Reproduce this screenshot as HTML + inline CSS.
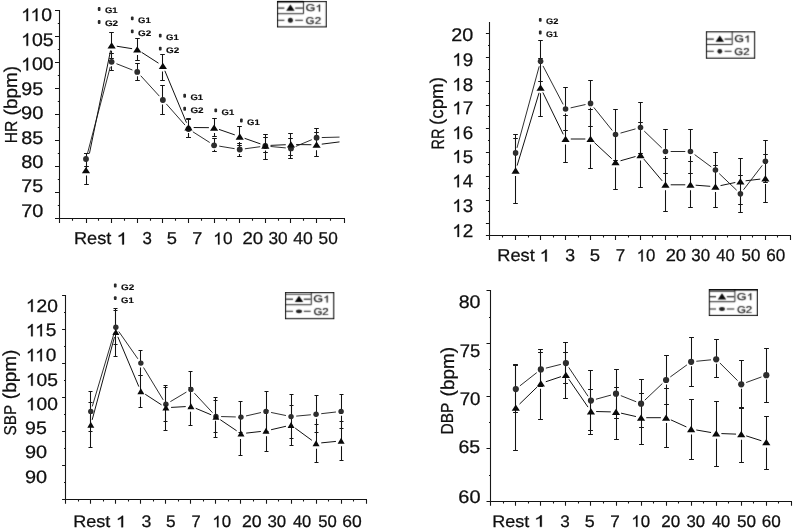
<!DOCTYPE html>
<html><head><meta charset="utf-8"><title>Figure</title>
<style>html,body{margin:0;padding:0;background:#fff}svg{display:block}text{font-family:"Liberation Sans",sans-serif;text-rendering:geometricPrecision}</style>
</head><body>
<svg width="793" height="532" viewBox="0 0 793 532" font-family="'Liberation Sans', sans-serif">
<defs><filter id="b" x="0" y="0" width="793" height="532" filterUnits="userSpaceOnUse" color-interpolation-filters="sRGB"><feConvolveMatrix order="3" kernelMatrix="1 3 1 3 16 3 1 3 1" divisor="32" edgeMode="duplicate" preserveAlpha="true"/></filter></defs>
<rect width="793" height="532" fill="#fff"/>
<g filter="url(#b)">
<path d="M59.50,10.00V222.90M55.00,218.50H345.00M55.00,10.50h4.5M55.00,36.50h4.5M55.00,62.50h4.5M55.00,88.50h4.5M55.00,114.50h4.5M55.00,140.50h4.5M55.00,166.50h4.5M55.00,192.50h4.5M55.00,218.50h4.5M57.80,23.50h1.7M57.80,49.50h1.7M57.80,75.50h1.7M57.80,101.50h1.7M57.80,127.50h1.7M57.80,153.50h1.7M57.80,179.50h1.7M57.80,205.50h1.7M59.50,218.50v4.4M86.50,218.50v4.4M111.50,218.50v4.4M137.50,218.50v4.4M162.50,218.50v4.4M188.50,218.50v4.4M214.50,218.50v4.4M239.50,218.50v4.4M265.50,218.50v4.4M290.50,218.50v4.4M316.50,218.50v4.4M344.50,218.50v4.4M72.50,218.50v2.3M98.50,218.50v2.3M124.50,218.50v2.3M150.50,218.50v2.3M175.50,218.50v2.3M201.50,218.50v2.3M226.50,218.50v2.3M252.50,218.50v2.3M278.50,218.50v2.3M303.50,218.50v2.3M330.50,218.50v2.3" fill="none" stroke="#1a1a1a" stroke-width="1.1"/>
<g transform="translate(21.18,21.12) scale(1.0536,1)" fill="#111" stroke="#111" stroke-width="0.26">
<path transform="translate(0.00,0) scale(17.574,-17.574)" d="M.3726,0H.2847V.5601Q.2529,.5298 .2014,.4995Q.1499,.4692 .1089,.4541V.5391Q.1826,.5737 .2378,.623Q.293,.6724 .3159,.7188H.3726Z" stroke-width="0.0148"/>
<path transform="translate(8.86,0) scale(17.574,-17.574)" d="M.3726,0H.2847V.5601Q.2529,.5298 .2014,.4995Q.1499,.4692 .1089,.4541V.5391Q.1826,.5737 .2378,.623Q.293,.6724 .3159,.7188H.3726Z" stroke-width="0.0148"/>
<text x="19.08" font-size="18.37">0</text>
</g>
<g transform="translate(21.17,45.87) scale(1.0620,1)" fill="#111" stroke="#111" stroke-width="0.26">
<path transform="translate(0.00,0) scale(17.574,-17.574)" d="M.3726,0H.2847V.5601Q.2529,.5298 .2014,.4995Q.1499,.4692 .1089,.4541V.5391Q.1826,.5737 .2378,.623Q.293,.6724 .3159,.7188H.3726Z" stroke-width="0.0148"/>
<text x="10.22" font-size="18.37">05</text>
</g>
<g transform="translate(21.18,70.42) scale(1.0567,1)" fill="#111" stroke="#111" stroke-width="0.26">
<path transform="translate(0.00,0) scale(17.574,-17.574)" d="M.3726,0H.2847V.5601Q.2529,.5298 .2014,.4995Q.1499,.4692 .1089,.4541V.5391Q.1826,.5737 .2378,.623Q.293,.6724 .3159,.7188H.3726Z" stroke-width="0.0148"/>
<text x="10.22" font-size="18.37">00</text>
</g>
<g transform="translate(21.27,94.67) scale(1.0698,1)" fill="#111" stroke="#111" stroke-width="0.26">
<text font-size="18.37">95</text>
</g>
<g transform="translate(21.05,119.47) scale(1.0938,1)" fill="#111" stroke="#111" stroke-width="0.26">
<text font-size="18.37">90</text>
</g>
<g transform="translate(21.16,143.62) scale(1.0805,1)" fill="#111" stroke="#111" stroke-width="0.26">
<text font-size="18.37">85</text>
</g>
<g transform="translate(21.15,167.72) scale(1.0885,1)" fill="#111" stroke="#111" stroke-width="0.26">
<text font-size="18.37">80</text>
</g>
<g transform="translate(21.32,192.17) scale(1.0671,1)" fill="#111" stroke="#111" stroke-width="0.26">
<text font-size="18.37">75</text>
</g>
<g transform="translate(21.31,217.32) scale(1.0805,1)" fill="#111" stroke="#111" stroke-width="0.26">
<text font-size="18.37">70</text>
</g>
<g transform="translate(0,114.20) rotate(-90)">
<g transform="translate(-1.18,16.97) scale(1.0244,1)" fill="#111" stroke="#111" stroke-width="0.26">
<text font-size="18.45">(bpm)</text>
</g>
</g>
<g transform="translate(0,142.00) rotate(-90)">
<g transform="translate(-1.29,16.73) scale(0.9011,1)" fill="#111" stroke="#111" stroke-width="0.26">
<text font-size="17.39">HR</text>
</g>
</g>
<g transform="translate(74.00,244.43) scale(1.0536,1)" fill="#111" stroke="#111" stroke-width="0.26">
<text font-size="17.24">Rest</text>
</g>
<g transform="translate(116.51,244.43) scale(1.2186,1)" fill="#111" stroke="#111" stroke-width="0.26">
<path transform="translate(0.00,0) scale(16.493,-16.493)" d="M.3726,0H.2847V.5601Q.2529,.5298 .2014,.4995Q.1499,.4692 .1089,.4541V.5391Q.1826,.5737 .2378,.623Q.293,.6724 .3159,.7188H.3726Z" stroke-width="0.0158"/>
</g>
<g transform="translate(142.47,244.43) scale(0.9767,1)" fill="#111" stroke="#111" stroke-width="0.26">
<text font-size="17.24">3</text>
</g>
<g transform="translate(166.77,244.43) scale(1.0622,1)" fill="#111" stroke="#111" stroke-width="0.26">
<text font-size="17.24">5</text>
</g>
<g transform="translate(192.30,244.43) scale(1.0451,1)" fill="#111" stroke="#111" stroke-width="0.26">
<text font-size="17.24">7</text>
</g>
<g transform="translate(213.30,244.43) scale(1.0049,1)" fill="#111" stroke="#111" stroke-width="0.26">
<path transform="translate(0.00,0) scale(16.493,-16.493)" d="M.3726,0H.2847V.5601Q.2529,.5298 .2014,.4995Q.1499,.4692 .1089,.4541V.5391Q.1826,.5737 .2378,.623Q.293,.6724 .3159,.7188H.3726Z" stroke-width="0.0158"/>
<text x="9.59" font-size="17.24">0</text>
</g>
<g transform="translate(242.47,244.43) scale(1.0776,1)" fill="#111" stroke="#111" stroke-width="0.26">
<text font-size="17.24">20</text>
</g>
<g transform="translate(268.45,244.43) scale(1.0030,1)" fill="#111" stroke="#111" stroke-width="0.26">
<text font-size="17.24">30</text>
</g>
<g transform="translate(293.30,244.43) scale(1.0218,1)" fill="#111" stroke="#111" stroke-width="0.26">
<text font-size="17.24">40</text>
</g>
<g transform="translate(318.61,244.43) scale(0.9998,1)" fill="#111" stroke="#111" stroke-width="0.26">
<text font-size="17.24">50</text>
</g>
<path d="M84.20,153.50h4.6M84.20,184.50h4.6M86.50,153.50V170.20M86.50,175.60V184.50" stroke="#1a1a1a" stroke-width="1.05" fill="none"/>
<path d="M109.20,32.50h4.6M109.20,58.50h4.6M111.50,32.50V45.40M111.50,50.80V58.50" stroke="#1a1a1a" stroke-width="1.05" fill="none"/>
<path d="M135.20,38.50h4.6M135.20,60.50h4.6M137.50,38.50V49.50M137.50,54.90V60.50" stroke="#1a1a1a" stroke-width="1.05" fill="none"/>
<path d="M160.20,54.50h4.6M160.20,80.50h4.6M162.50,54.50V66.00M162.50,71.40V80.50" stroke="#1a1a1a" stroke-width="1.05" fill="none"/>
<path d="M186.20,118.50h4.6M186.20,137.50h4.6M188.50,118.50V127.50M188.50,132.90V137.50" stroke="#1a1a1a" stroke-width="1.05" fill="none"/>
<path d="M212.20,118.50h4.6M212.20,136.50h4.6M214.50,118.50V127.70M214.50,133.10V136.50" stroke="#1a1a1a" stroke-width="1.05" fill="none"/>
<path d="M237.20,126.50h4.6M237.20,145.50h4.6M239.50,126.50V136.60M239.50,142.00V145.50" stroke="#1a1a1a" stroke-width="1.05" fill="none"/>
<path d="M263.20,134.50h4.6M263.20,159.50h4.6M265.50,134.50V145.60M265.50,151.00V159.50" stroke="#1a1a1a" stroke-width="1.05" fill="none"/>
<path d="M288.20,133.50h4.6M288.20,158.50h4.6M290.50,133.50V144.50M290.50,149.90V158.50" stroke="#1a1a1a" stroke-width="1.05" fill="none"/>
<path d="M314.20,132.50h4.6M314.20,156.50h4.6M316.50,132.50V144.80M316.50,150.20V156.50" stroke="#1a1a1a" stroke-width="1.05" fill="none"/>
<path d="M84.20,153.50h4.6M84.20,166.50h4.6M86.50,153.50V159.00M86.50,163.40V166.50" stroke="#1a1a1a" stroke-width="1.05" fill="none"/>
<path d="M109.20,53.50h4.6M109.20,70.50h4.6M111.50,53.50V61.80M111.50,66.20V70.50" stroke="#1a1a1a" stroke-width="1.05" fill="none"/>
<path d="M135.20,63.50h4.6M135.20,80.50h4.6M137.50,63.50V71.90M137.50,76.30V80.50" stroke="#1a1a1a" stroke-width="1.05" fill="none"/>
<path d="M160.20,85.50h4.6M160.20,114.50h4.6M162.50,85.50V100.00M162.50,104.40V114.50" stroke="#1a1a1a" stroke-width="1.05" fill="none"/>
<path d="M186.20,119.50h4.6M186.20,137.50h4.6M188.50,119.50V129.00M188.50,133.40V137.50" stroke="#1a1a1a" stroke-width="1.05" fill="none"/>
<path d="M212.20,138.50h4.6M212.20,151.50h4.6M214.50,138.50V145.30M214.50,149.70V151.50" stroke="#1a1a1a" stroke-width="1.05" fill="none"/>
<path d="M237.20,143.50h4.6M237.20,156.50h4.6M239.50,143.50V149.50M239.50,153.90V156.50" stroke="#1a1a1a" stroke-width="1.05" fill="none"/>
<path d="M263.20,137.50h4.6M263.20,152.50h4.6M265.50,137.50V146.00M265.50,150.40V152.50" stroke="#1a1a1a" stroke-width="1.05" fill="none"/>
<path d="M288.20,138.50h4.6M288.20,155.50h4.6M290.50,138.50V148.40M290.50,152.80V155.50" stroke="#1a1a1a" stroke-width="1.05" fill="none"/>
<path d="M314.20,128.50h4.6M314.20,146.50h4.6M316.50,128.50V137.70M316.50,142.10V146.50" stroke="#1a1a1a" stroke-width="1.05" fill="none"/>
<path d="M87.33,153.97L110.29,66.83M116.46,63.71L132.40,69.99M140.74,75.74L159.36,96.16M166.30,103.90L185.04,125.10M192.87,131.79L209.71,142.51M219.23,146.14L234.59,148.66M244.87,148.80L260.19,146.70M270.52,146.48L285.78,147.92M295.76,146.40L311.78,139.70M321.78,137.56L339.50,137.10" fill="none" stroke="#2c2c2c" stroke-width="0.95"/>
<path d="M89.42,153.55L110.57,50.49M116.75,46.22L132.11,48.68M141.61,52.32L158.49,63.18M164.86,70.80L186.48,122.70M193.68,127.54L208.90,127.66M219.01,129.41L234.81,134.89M244.63,138.32L260.43,143.88M270.54,145.38L285.76,144.72M296.16,144.56L311.38,144.74M321.74,144.15L339.50,141.90" fill="none" stroke="#151515" stroke-width="1.0"/>
<circle cx="86.00" cy="159.00" r="2.9" fill="#2e2e2e"/>
<circle cx="111.62" cy="61.80" r="2.9" fill="#2e2e2e"/>
<circle cx="137.24" cy="71.90" r="2.9" fill="#2e2e2e"/>
<circle cx="162.86" cy="100.00" r="2.9" fill="#2e2e2e"/>
<circle cx="188.48" cy="129.00" r="2.9" fill="#2e2e2e"/>
<circle cx="214.10" cy="145.30" r="2.9" fill="#2e2e2e"/>
<circle cx="239.72" cy="149.50" r="2.9" fill="#2e2e2e"/>
<circle cx="265.34" cy="146.00" r="2.9" fill="#2e2e2e"/>
<circle cx="290.96" cy="148.40" r="2.9" fill="#2e2e2e"/>
<circle cx="316.58" cy="137.70" r="2.9" fill="#2e2e2e"/>
<path d="M81.90,173.25L90.10,173.25L86.00,166.95Z" fill="#0a0a0a"/>
<path d="M107.52,48.45L115.72,48.45L111.62,42.15Z" fill="#0a0a0a"/>
<path d="M133.14,52.55L141.34,52.55L137.24,46.25Z" fill="#0a0a0a"/>
<path d="M158.76,69.05L166.96,69.05L162.86,62.75Z" fill="#0a0a0a"/>
<path d="M184.38,130.55L192.58,130.55L188.48,124.25Z" fill="#0a0a0a"/>
<path d="M210.00,130.75L218.20,130.75L214.10,124.45Z" fill="#0a0a0a"/>
<path d="M235.62,139.65L243.82,139.65L239.72,133.35Z" fill="#0a0a0a"/>
<path d="M261.24,148.65L269.44,148.65L265.34,142.35Z" fill="#0a0a0a"/>
<path d="M286.86,147.55L295.06,147.55L290.96,141.25Z" fill="#0a0a0a"/>
<path d="M312.48,147.85L320.68,147.85L316.58,141.55Z" fill="#0a0a0a"/>
<g transform="translate(104.92,13.47) scale(1.1774,1)" fill="#111" stroke="#111" stroke-width="0.15">
<text font-size="8.06" font-weight="bold">G1</text>
</g>
<rect x="97.80" y="7.10" width="2.7" height="3.9" rx="1" fill="#2a2a2a"/>
<g transform="translate(104.90,26.37) scale(1.2264,1)" fill="#111" stroke="#111" stroke-width="0.15">
<text font-size="8.06" font-weight="bold">G2</text>
</g>
<rect x="97.80" y="20.00" width="2.7" height="3.9" rx="1" fill="#2a2a2a"/>
<g transform="translate(138.02,22.77) scale(1.1774,1)" fill="#111" stroke="#111" stroke-width="0.15">
<text font-size="8.06" font-weight="bold">G1</text>
</g>
<rect x="130.90" y="16.40" width="2.7" height="3.9" rx="1" fill="#2a2a2a"/>
<g transform="translate(138.00,35.77) scale(1.2264,1)" fill="#111" stroke="#111" stroke-width="0.15">
<text font-size="8.06" font-weight="bold">G2</text>
</g>
<rect x="130.90" y="29.40" width="2.7" height="3.9" rx="1" fill="#2a2a2a"/>
<g transform="translate(166.02,40.07) scale(1.1774,1)" fill="#111" stroke="#111" stroke-width="0.15">
<text font-size="8.06" font-weight="bold">G1</text>
</g>
<rect x="158.90" y="33.70" width="2.7" height="3.9" rx="1" fill="#2a2a2a"/>
<g transform="translate(166.00,53.07) scale(1.2264,1)" fill="#111" stroke="#111" stroke-width="0.15">
<text font-size="8.06" font-weight="bold">G2</text>
</g>
<rect x="158.90" y="46.70" width="2.7" height="3.9" rx="1" fill="#2a2a2a"/>
<g transform="translate(190.42,100.17) scale(1.1774,1)" fill="#111" stroke="#111" stroke-width="0.15">
<text font-size="8.06" font-weight="bold">G1</text>
</g>
<rect x="183.30" y="93.80" width="2.7" height="3.9" rx="1" fill="#2a2a2a"/>
<g transform="translate(190.40,113.17) scale(1.2264,1)" fill="#111" stroke="#111" stroke-width="0.15">
<text font-size="8.06" font-weight="bold">G2</text>
</g>
<rect x="183.30" y="106.80" width="2.7" height="3.9" rx="1" fill="#2a2a2a"/>
<g transform="translate(221.52,114.77) scale(1.1774,1)" fill="#111" stroke="#111" stroke-width="0.15">
<text font-size="8.06" font-weight="bold">G1</text>
</g>
<rect x="214.40" y="108.40" width="2.7" height="3.9" rx="1" fill="#2a2a2a"/>
<g transform="translate(247.12,124.87) scale(1.1774,1)" fill="#111" stroke="#111" stroke-width="0.15">
<text font-size="8.06" font-weight="bold">G1</text>
</g>
<rect x="240.00" y="118.50" width="2.7" height="3.9" rx="1" fill="#2a2a2a"/>
<rect x="277.50" y="1.50" width="48.80" height="25.40" fill="#fff" stroke="#1c1c1c" stroke-width="1.1"/>
<path d="M277.50,13.70H303.50V1.50" fill="none" stroke="#222" stroke-width="1"/>
<line x1="277.50" y1="1.70" x2="303.50" y2="1.70" stroke="#000" stroke-width="1.6"/>
<line x1="278.10" y1="8.10" x2="284.40" y2="8.10" stroke="#1a1a1a" stroke-width="1.2"/>
<line x1="295.20" y1="8.10" x2="302.90" y2="8.10" stroke="#1a1a1a" stroke-width="1.2"/>
<line x1="278.10" y1="20.30" x2="284.40" y2="20.30" stroke="#2a2a2a" stroke-width="1.1"/>
<line x1="295.20" y1="20.30" x2="302.90" y2="20.30" stroke="#2a2a2a" stroke-width="1.1"/>
<path d="M286.20,10.80L294.60,10.80L290.40,4.60Z" fill="#0a0a0a"/>
<ellipse cx="290.40" cy="20.30" rx="2.5" ry="2.5" fill="#222"/>
<g transform="translate(305.56,11.40) scale(1.2864,1)" fill="#1a1a1a" stroke="#1a1a1a" stroke-width="0.2">
<text font-size="9.89">G</text>
<path transform="translate(7.70,0) scale(9.463,-9.463)" d="M.3726,0H.2847V.5601Q.2529,.5298 .2014,.4995Q.1499,.4692 .1089,.4541V.5391Q.1826,.5737 .2378,.623Q.293,.6724 .3159,.7188H.3726Z" stroke-width="0.0211"/>
</g>
<g transform="translate(305.62,23.80) scale(1.1727,1)" fill="#1a1a1a" stroke="#1a1a1a" stroke-width="0.2">
<text font-size="9.89">G2</text>
</g>
<path d="M489.50,22.00V239.90M485.90,235.50H791.00M485.90,33.50h3.6M485.90,57.50h3.6M485.90,81.50h3.6M485.90,105.50h3.6M485.90,128.50h3.6M485.90,152.50h3.6M485.90,176.50h3.6M485.90,200.50h3.6M485.90,223.50h3.6M488.00,45.50h1.5M488.00,69.50h1.5M488.00,93.50h1.5M488.00,116.50h1.5M488.00,140.50h1.5M488.00,164.50h1.5M488.00,188.50h1.5M488.00,211.50h1.5M488.00,235.50h1.5M489.50,235.50v4.4M515.50,235.50v4.4M540.50,235.50v4.4M565.50,235.50v4.4M590.50,235.50v4.4M615.50,235.50v4.4M640.50,235.50v4.4M665.50,235.50v4.4M690.50,235.50v4.4M715.50,235.50v4.4M740.50,235.50v4.4M765.50,235.50v4.4M790.50,235.50v4.4M502.50,235.50v2.0M528.50,235.50v2.0M553.50,235.50v2.0M578.50,235.50v2.0M603.50,235.50v2.0M628.50,235.50v2.0M652.50,235.50v2.0M677.50,235.50v2.0M702.50,235.50v2.0M727.50,235.50v2.0M752.50,235.50v2.0M777.50,235.50v2.0" fill="none" stroke="#1a1a1a" stroke-width="1.1"/>
<g transform="translate(451.21,40.92) scale(1.0752,1)" fill="#111" stroke="#111" stroke-width="0.26">
<text font-size="18.37">20</text>
</g>
<g transform="translate(452.34,65.82) scale(1.0240,1)" fill="#111" stroke="#111" stroke-width="0.26">
<path transform="translate(0.00,0) scale(17.574,-17.574)" d="M.3726,0H.2847V.5601Q.2529,.5298 .2014,.4995Q.1499,.4692 .1089,.4541V.5391Q.1826,.5737 .2378,.623Q.293,.6724 .3159,.7188H.3726Z" stroke-width="0.0148"/>
<text x="10.22" font-size="18.37">9</text>
</g>
<g transform="translate(452.35,90.62) scale(1.0213,1)" fill="#111" stroke="#111" stroke-width="0.26">
<path transform="translate(0.00,0) scale(17.574,-17.574)" d="M.3726,0H.2847V.5601Q.2529,.5298 .2014,.4995Q.1499,.4692 .1089,.4541V.5391Q.1826,.5737 .2378,.623Q.293,.6724 .3159,.7188H.3726Z" stroke-width="0.0148"/>
<text x="10.22" font-size="18.37">8</text>
</g>
<g transform="translate(452.33,114.32) scale(1.0293,1)" fill="#111" stroke="#111" stroke-width="0.26">
<path transform="translate(0.00,0) scale(17.574,-17.574)" d="M.3726,0H.2847V.5601Q.2529,.5298 .2014,.4995Q.1499,.4692 .1089,.4541V.5391Q.1826,.5737 .2378,.623Q.293,.6724 .3159,.7188H.3726Z" stroke-width="0.0148"/>
<text x="10.22" font-size="18.37">7</text>
</g>
<g transform="translate(452.35,139.12) scale(1.0213,1)" fill="#111" stroke="#111" stroke-width="0.26">
<path transform="translate(0.00,0) scale(17.574,-17.574)" d="M.3726,0H.2847V.5601Q.2529,.5298 .2014,.4995Q.1499,.4692 .1089,.4541V.5391Q.1826,.5737 .2378,.623Q.293,.6724 .3159,.7188H.3726Z" stroke-width="0.0148"/>
<text x="10.22" font-size="18.37">6</text>
</g>
<g transform="translate(452.35,162.72) scale(1.0187,1)" fill="#111" stroke="#111" stroke-width="0.26">
<path transform="translate(0.00,0) scale(17.574,-17.574)" d="M.3726,0H.2847V.5601Q.2529,.5298 .2014,.4995Q.1499,.4692 .1089,.4541V.5391Q.1826,.5737 .2378,.623Q.293,.6724 .3159,.7188H.3726Z" stroke-width="0.0148"/>
<text x="10.22" font-size="18.37">5</text>
</g>
<g transform="translate(452.38,187.32) scale(1.0057,1)" fill="#111" stroke="#111" stroke-width="0.26">
<path transform="translate(0.00,0) scale(17.574,-17.574)" d="M.3726,0H.2847V.5601Q.2529,.5298 .2014,.4995Q.1499,.4692 .1089,.4541V.5391Q.1826,.5737 .2378,.623Q.293,.6724 .3159,.7188H.3726Z" stroke-width="0.0148"/>
<text x="10.22" font-size="18.37">4</text>
</g>
<g transform="translate(452.35,211.92) scale(1.0213,1)" fill="#111" stroke="#111" stroke-width="0.26">
<path transform="translate(0.00,0) scale(17.574,-17.574)" d="M.3726,0H.2847V.5601Q.2529,.5298 .2014,.4995Q.1499,.4692 .1089,.4541V.5391Q.1826,.5737 .2378,.623Q.293,.6724 .3159,.7188H.3726Z" stroke-width="0.0148"/>
<text x="10.22" font-size="18.37">3</text>
</g>
<g transform="translate(452.33,236.92) scale(1.0293,1)" fill="#111" stroke="#111" stroke-width="0.26">
<path transform="translate(0.00,0) scale(17.574,-17.574)" d="M.3726,0H.2847V.5601Q.2529,.5298 .2014,.4995Q.1499,.4692 .1089,.4541V.5391Q.1826,.5737 .2378,.623Q.293,.6724 .3159,.7188H.3726Z" stroke-width="0.0148"/>
<text x="10.22" font-size="18.37">2</text>
</g>
<g transform="translate(0,123.80) rotate(-90)">
<g transform="translate(-1.17,443.49) scale(1.0245,1)" fill="#111" stroke="#111" stroke-width="0.26">
<text font-size="18.34">(cpm)</text>
</g>
</g>
<g transform="translate(0,148.20) rotate(-90)">
<g transform="translate(-1.19,443.72) scale(0.8049,1)" fill="#111" stroke="#111" stroke-width="0.26">
<text font-size="17.95">RR</text>
</g>
</g>
<g transform="translate(497.30,261.43) scale(1.0565,1)" fill="#111" stroke="#111" stroke-width="0.26">
<text font-size="17.24">Rest</text>
</g>
<g transform="translate(539.59,261.43) scale(1.1726,1)" fill="#111" stroke="#111" stroke-width="0.26">
<path transform="translate(0.00,0) scale(16.493,-16.493)" d="M.3726,0H.2847V.5601Q.2529,.5298 .2014,.4995Q.1499,.4692 .1089,.4541V.5391Q.1826,.5737 .2378,.623Q.293,.6724 .3159,.7188H.3726Z" stroke-width="0.0158"/>
</g>
<g transform="translate(565.24,261.43) scale(1.0255,1)" fill="#111" stroke="#111" stroke-width="0.26">
<text font-size="17.24">3</text>
</g>
<g transform="translate(589.76,261.43) scale(1.0744,1)" fill="#111" stroke="#111" stroke-width="0.26">
<text font-size="17.24">5</text>
</g>
<g transform="translate(615.65,261.43) scale(0.9814,1)" fill="#111" stroke="#111" stroke-width="0.26">
<text font-size="17.24">7</text>
</g>
<g transform="translate(636.75,261.43) scale(0.9750,1)" fill="#111" stroke="#111" stroke-width="0.26">
<path transform="translate(0.00,0) scale(16.493,-16.493)" d="M.3726,0H.2847V.5601Q.2529,.5298 .2014,.4995Q.1499,.4692 .1089,.4541V.5391Q.1826,.5737 .2378,.623Q.293,.6724 .3159,.7188H.3726Z" stroke-width="0.0158"/>
<text x="9.59" font-size="17.24">0</text>
</g>
<g transform="translate(665.69,261.43) scale(1.0606,1)" fill="#111" stroke="#111" stroke-width="0.26">
<text font-size="17.24">20</text>
</g>
<g transform="translate(691.27,261.43) scale(0.9805,1)" fill="#111" stroke="#111" stroke-width="0.26">
<text font-size="17.24">30</text>
</g>
<g transform="translate(716.33,261.43) scale(0.9665,1)" fill="#111" stroke="#111" stroke-width="0.26">
<text font-size="17.24">40</text>
</g>
<g transform="translate(741.62,261.43) scale(0.9829,1)" fill="#111" stroke="#111" stroke-width="0.26">
<text font-size="17.24">50</text>
</g>
<g transform="translate(766.24,261.43) scale(0.9925,1)" fill="#111" stroke="#111" stroke-width="0.26">
<text font-size="17.24">60</text>
</g>
<path d="M513.20,138.50h4.6M513.20,203.50h4.6M515.50,138.50V170.60M515.50,176.00V203.50" stroke="#1a1a1a" stroke-width="1.05" fill="none"/>
<path d="M538.20,58.50h4.6M538.20,116.50h4.6M540.50,58.50V87.80M540.50,93.20V116.50" stroke="#1a1a1a" stroke-width="1.05" fill="none"/>
<path d="M563.20,115.50h4.6M563.20,162.50h4.6M565.50,115.50V139.00M565.50,144.40V162.50" stroke="#1a1a1a" stroke-width="1.05" fill="none"/>
<path d="M588.20,109.50h4.6M588.20,168.50h4.6M590.50,109.50V139.00M590.50,144.40V168.50" stroke="#1a1a1a" stroke-width="1.05" fill="none"/>
<path d="M613.20,135.50h4.6M613.20,189.50h4.6M615.50,135.50V162.20M615.50,167.60V189.50" stroke="#1a1a1a" stroke-width="1.05" fill="none"/>
<path d="M638.20,122.50h4.6M638.20,187.50h4.6M640.50,122.50V155.10M640.50,160.50V187.50" stroke="#1a1a1a" stroke-width="1.05" fill="none"/>
<path d="M663.20,158.50h4.6M663.20,211.50h4.6M665.50,158.50V184.80M665.50,190.20V211.50" stroke="#1a1a1a" stroke-width="1.05" fill="none"/>
<path d="M688.20,161.50h4.6M688.20,207.50h4.6M690.50,161.50V184.80M690.50,190.20V207.50" stroke="#1a1a1a" stroke-width="1.05" fill="none"/>
<path d="M713.20,165.50h4.6M713.20,207.50h4.6M715.50,165.50V186.70M715.50,192.10V207.50" stroke="#1a1a1a" stroke-width="1.05" fill="none"/>
<path d="M738.20,158.50h4.6M738.20,204.50h4.6M740.50,158.50V181.40M740.50,186.80V204.50" stroke="#1a1a1a" stroke-width="1.05" fill="none"/>
<path d="M763.20,154.50h4.6M763.20,202.50h4.6M765.50,154.50V178.50M765.50,183.90V202.50" stroke="#1a1a1a" stroke-width="1.05" fill="none"/>
<path d="M513.20,134.50h4.6M513.20,171.50h4.6M515.50,134.50V152.90M515.50,157.30V171.50" stroke="#1a1a1a" stroke-width="1.05" fill="none"/>
<path d="M538.20,40.50h4.6M538.20,81.50h4.6M540.50,40.50V61.30M540.50,65.70V81.50" stroke="#1a1a1a" stroke-width="1.05" fill="none"/>
<path d="M563.20,87.50h4.6M563.20,130.50h4.6M565.50,87.50V109.00M565.50,113.40V130.50" stroke="#1a1a1a" stroke-width="1.05" fill="none"/>
<path d="M588.20,80.50h4.6M588.20,126.50h4.6M590.50,80.50V103.40M590.50,107.80V126.50" stroke="#1a1a1a" stroke-width="1.05" fill="none"/>
<path d="M613.20,109.50h4.6M613.20,160.50h4.6M615.50,109.50V134.50M615.50,138.90V160.50" stroke="#1a1a1a" stroke-width="1.05" fill="none"/>
<path d="M638.20,102.50h4.6M638.20,153.50h4.6M640.50,102.50V127.50M640.50,131.90V153.50" stroke="#1a1a1a" stroke-width="1.05" fill="none"/>
<path d="M663.20,129.50h4.6M663.20,173.50h4.6M665.50,129.50V151.50M665.50,155.90V173.50" stroke="#1a1a1a" stroke-width="1.05" fill="none"/>
<path d="M688.20,129.50h4.6M688.20,173.50h4.6M690.50,129.50V151.50M690.50,155.90V173.50" stroke="#1a1a1a" stroke-width="1.05" fill="none"/>
<path d="M713.20,152.50h4.6M713.20,187.50h4.6M715.50,152.50V170.00M715.50,174.40V187.50" stroke="#1a1a1a" stroke-width="1.05" fill="none"/>
<path d="M738.20,175.50h4.6M738.20,212.50h4.6M740.50,175.50V193.80M740.50,198.20V212.50" stroke="#1a1a1a" stroke-width="1.05" fill="none"/>
<path d="M763.20,140.50h4.6M763.20,182.50h4.6M765.50,140.50V161.30M765.50,165.70V182.50" stroke="#1a1a1a" stroke-width="1.05" fill="none"/>
<path d="M516.97,147.88L539.21,66.32M542.99,65.91L563.15,104.39M570.63,107.86L585.47,104.54M593.80,107.45L612.26,130.45M620.53,133.10L635.49,128.90M644.25,131.10L661.73,147.90M670.68,151.50L685.26,151.50M694.64,154.59L711.26,166.91M719.20,173.59L736.66,190.21M743.59,189.68L762.23,165.42" fill="none" stroke="#2c2c2c" stroke-width="0.95"/>
<path d="M517.10,165.62L539.08,92.78M542.86,92.47L563.28,134.33M570.76,139.00L585.34,139.00M594.35,142.54L611.71,158.66M620.52,160.78L635.50,156.52M643.85,159.08L662.13,180.82M670.68,184.80L685.26,184.80M695.65,185.19L710.25,186.31M720.53,185.62L735.33,182.48M745.59,180.80L760.23,179.10" fill="none" stroke="#151515" stroke-width="1.0"/>
<circle cx="515.60" cy="152.90" r="2.8" fill="#2e2e2e"/>
<circle cx="540.58" cy="61.30" r="2.8" fill="#2e2e2e"/>
<circle cx="565.56" cy="109.00" r="2.8" fill="#2e2e2e"/>
<circle cx="590.54" cy="103.40" r="2.8" fill="#2e2e2e"/>
<circle cx="615.52" cy="134.50" r="2.8" fill="#2e2e2e"/>
<circle cx="640.50" cy="127.50" r="2.8" fill="#2e2e2e"/>
<circle cx="665.48" cy="151.50" r="2.8" fill="#2e2e2e"/>
<circle cx="690.46" cy="151.50" r="2.8" fill="#2e2e2e"/>
<circle cx="715.44" cy="170.00" r="2.8" fill="#2e2e2e"/>
<circle cx="740.42" cy="193.80" r="2.8" fill="#2e2e2e"/>
<circle cx="765.40" cy="161.30" r="2.8" fill="#2e2e2e"/>
<path d="M511.50,173.65L519.70,173.65L515.60,167.35Z" fill="#0a0a0a"/>
<path d="M536.48,90.85L544.68,90.85L540.58,84.55Z" fill="#0a0a0a"/>
<path d="M561.46,142.05L569.66,142.05L565.56,135.75Z" fill="#0a0a0a"/>
<path d="M586.44,142.05L594.64,142.05L590.54,135.75Z" fill="#0a0a0a"/>
<path d="M611.42,165.25L619.62,165.25L615.52,158.95Z" fill="#0a0a0a"/>
<path d="M636.40,158.15L644.60,158.15L640.50,151.85Z" fill="#0a0a0a"/>
<path d="M661.38,187.85L669.58,187.85L665.48,181.55Z" fill="#0a0a0a"/>
<path d="M686.36,187.85L694.56,187.85L690.46,181.55Z" fill="#0a0a0a"/>
<path d="M711.34,189.75L719.54,189.75L715.44,183.45Z" fill="#0a0a0a"/>
<path d="M736.32,184.45L744.52,184.45L740.42,178.15Z" fill="#0a0a0a"/>
<path d="M761.30,181.55L769.50,181.55L765.40,175.25Z" fill="#0a0a0a"/>
<g transform="translate(546.03,24.27) scale(1.1473,1)" fill="#111" stroke="#111" stroke-width="0.15">
<text font-size="8.06" font-weight="bold">G2</text>
</g>
<rect x="538.90" y="17.90" width="2.7" height="3.9" rx="1" fill="#2a2a2a"/>
<g transform="translate(546.05,36.87) scale(1.0990,1)" fill="#111" stroke="#111" stroke-width="0.15">
<text font-size="8.06" font-weight="bold">G1</text>
</g>
<rect x="538.90" y="30.50" width="2.7" height="3.9" rx="1" fill="#2a2a2a"/>
<rect x="706.40" y="31.80" width="48.30" height="26.40" fill="#fff" stroke="#1c1c1c" stroke-width="1.1"/>
<path d="M706.40,44.50H732.20V31.80" fill="none" stroke="#222" stroke-width="1"/>
<line x1="707.00" y1="39.10" x2="713.80" y2="39.10" stroke="#1a1a1a" stroke-width="1.2"/>
<line x1="724.60" y1="39.10" x2="731.60" y2="39.10" stroke="#1a1a1a" stroke-width="1.2"/>
<line x1="707.00" y1="51.30" x2="713.80" y2="51.30" stroke="#2a2a2a" stroke-width="1.1"/>
<line x1="724.60" y1="51.30" x2="731.60" y2="51.30" stroke="#2a2a2a" stroke-width="1.1"/>
<path d="M715.60,41.80L724.00,41.80L719.80,35.60Z" fill="#0a0a0a"/>
<ellipse cx="719.80" cy="51.30" rx="2.4" ry="2.4" fill="#222"/>
<g transform="translate(734.27,42.20) scale(1.2678,1)" fill="#1a1a1a" stroke="#1a1a1a" stroke-width="0.2">
<text font-size="9.89">G</text>
<path transform="translate(7.70,0) scale(9.463,-9.463)" d="M.3726,0H.2847V.5601Q.2529,.5298 .2014,.4995Q.1499,.4692 .1089,.4541V.5391Q.1826,.5737 .2378,.623Q.293,.6724 .3159,.7188H.3726Z" stroke-width="0.0211"/>
</g>
<g transform="translate(734.33,55.00) scale(1.1563,1)" fill="#1a1a1a" stroke="#1a1a1a" stroke-width="0.2">
<text font-size="9.89">G2</text>
</g>
<path d="M65.50,295.00V503.70M62.10,499.50H367.00M62.10,295.50h3.4M62.10,329.50h3.4M62.10,363.50h3.4M62.10,397.50h3.4M62.10,431.50h3.4M62.10,465.50h3.4M62.10,499.50h3.4M64.00,312.50h1.5M64.00,346.50h1.5M64.00,380.50h1.5M64.00,414.50h1.5M64.00,448.50h1.5M64.00,482.50h1.5M65.50,499.50v4.2M90.50,499.50v4.2M115.50,499.50v4.2M140.50,499.50v4.2M165.50,499.50v4.2M190.50,499.50v4.2M215.50,499.50v4.2M240.50,499.50v4.2M266.50,499.50v4.2M291.50,499.50v4.2M316.50,499.50v4.2M341.50,499.50v4.2M366.50,499.50v4.2M78.50,499.50v2.0M103.50,499.50v2.0M128.50,499.50v2.0M153.50,499.50v2.0M178.50,499.50v2.0M203.50,499.50v2.0M228.50,499.50v2.0M253.50,499.50v2.0M278.50,499.50v2.0M303.50,499.50v2.0M328.50,499.50v2.0M353.50,499.50v2.0" fill="none" stroke="#1a1a1a" stroke-width="1.1"/>
<g transform="translate(25.90,311.72) scale(1.0623,1)" fill="#111" stroke="#111" stroke-width="0.26">
<path transform="translate(0.00,0) scale(17.304,-17.304)" d="M.3726,0H.2847V.5601Q.2529,.5298 .2014,.4995Q.1499,.4692 .1089,.4541V.5391Q.1826,.5737 .2378,.623Q.293,.6724 .3159,.7188H.3726Z" stroke-width="0.0150"/>
<text x="10.06" font-size="18.09">20</text>
</g>
<g transform="translate(25.91,336.37) scale(1.0567,1)" fill="#111" stroke="#111" stroke-width="0.26">
<path transform="translate(0.00,0) scale(17.304,-17.304)" d="M.3726,0H.2847V.5601Q.2529,.5298 .2014,.4995Q.1499,.4692 .1089,.4541V.5391Q.1826,.5737 .2378,.623Q.293,.6724 .3159,.7188H.3726Z" stroke-width="0.0150"/>
<path transform="translate(8.72,0) scale(17.304,-17.304)" d="M.3726,0H.2847V.5601Q.2529,.5298 .2014,.4995Q.1499,.4692 .1089,.4541V.5391Q.1826,.5737 .2378,.623Q.293,.6724 .3159,.7188H.3726Z" stroke-width="0.0150"/>
<text x="18.78" font-size="18.09">5</text>
</g>
<g transform="translate(25.91,361.27) scale(1.0548,1)" fill="#111" stroke="#111" stroke-width="0.26">
<path transform="translate(0.00,0) scale(17.304,-17.304)" d="M.3726,0H.2847V.5601Q.2529,.5298 .2014,.4995Q.1499,.4692 .1089,.4541V.5391Q.1826,.5737 .2378,.623Q.293,.6724 .3159,.7188H.3726Z" stroke-width="0.0150"/>
<path transform="translate(8.72,0) scale(17.304,-17.304)" d="M.3726,0H.2847V.5601Q.2529,.5298 .2014,.4995Q.1499,.4692 .1089,.4541V.5391Q.1826,.5737 .2378,.623Q.293,.6724 .3159,.7188H.3726Z" stroke-width="0.0150"/>
<text x="18.78" font-size="18.09">0</text>
</g>
<g transform="translate(25.89,385.72) scale(1.0641,1)" fill="#111" stroke="#111" stroke-width="0.26">
<path transform="translate(0.00,0) scale(17.304,-17.304)" d="M.3726,0H.2847V.5601Q.2529,.5298 .2014,.4995Q.1499,.4692 .1089,.4541V.5391Q.1826,.5737 .2378,.623Q.293,.6724 .3159,.7188H.3726Z" stroke-width="0.0150"/>
<text x="10.06" font-size="18.09">05</text>
</g>
<g transform="translate(25.90,410.22) scale(1.0623,1)" fill="#111" stroke="#111" stroke-width="0.26">
<path transform="translate(0.00,0) scale(17.304,-17.304)" d="M.3726,0H.2847V.5601Q.2529,.5298 .2014,.4995Q.1499,.4692 .1089,.4541V.5391Q.1826,.5737 .2378,.623Q.293,.6724 .3159,.7188H.3726Z" stroke-width="0.0150"/>
<text x="10.06" font-size="18.09">00</text>
</g>
<g transform="translate(25.07,434.12) scale(1.0811,1)" fill="#111" stroke="#111" stroke-width="0.26">
<text font-size="18.09">95</text>
</g>
<g transform="translate(25.05,458.32) scale(1.1001,1)" fill="#111" stroke="#111" stroke-width="0.26">
<text font-size="18.09">90</text>
</g>
<g transform="translate(25.05,482.87) scale(1.1001,1)" fill="#111" stroke="#111" stroke-width="0.26">
<text font-size="18.09">90</text>
</g>
<g transform="translate(0,398.00) rotate(-90)">
<g transform="translate(-1.19,16.03) scale(1.0169,1)" fill="#111" stroke="#111" stroke-width="0.26">
<text font-size="18.66">(bpm)</text>
</g>
</g>
<g transform="translate(0,434.70) rotate(-90)">
<g transform="translate(-0.69,16.13) scale(0.8901,1)" fill="#111" stroke="#111" stroke-width="0.26">
<text font-size="17.10">SBP</text>
</g>
</g>
<g transform="translate(73.21,527.23) scale(1.0832,1)" fill="#111" stroke="#111" stroke-width="0.26">
<text font-size="16.68">Rest</text>
</g>
<g transform="translate(115.75,527.23) scale(1.2362,1)" fill="#111" stroke="#111" stroke-width="0.26">
<path transform="translate(0.00,0) scale(15.952,-15.952)" d="M.3726,0H.2847V.5601Q.2529,.5298 .2014,.4995Q.1499,.4692 .1089,.4541V.5391Q.1826,.5737 .2378,.623Q.293,.6724 .3159,.7188H.3726Z" stroke-width="0.0163"/>
</g>
<g transform="translate(141.44,527.23) scale(1.0603,1)" fill="#111" stroke="#111" stroke-width="0.26">
<text font-size="16.68">3</text>
</g>
<g transform="translate(166.11,527.23) scale(1.0351,1)" fill="#111" stroke="#111" stroke-width="0.26">
<text font-size="16.68">5</text>
</g>
<g transform="translate(191.58,527.23) scale(0.9883,1)" fill="#111" stroke="#111" stroke-width="0.26">
<text font-size="16.68">7</text>
</g>
<g transform="translate(212.45,527.23) scale(1.0080,1)" fill="#111" stroke="#111" stroke-width="0.26">
<path transform="translate(0.00,0) scale(15.952,-15.952)" d="M.3726,0H.2847V.5601Q.2529,.5298 .2014,.4995Q.1499,.4692 .1089,.4541V.5391Q.1826,.5737 .2378,.623Q.293,.6724 .3159,.7188H.3726Z" stroke-width="0.0163"/>
<text x="9.28" font-size="16.68">0</text>
</g>
<g transform="translate(241.91,527.23) scale(1.0614,1)" fill="#111" stroke="#111" stroke-width="0.26">
<text font-size="16.68">20</text>
</g>
<g transform="translate(267.47,527.23) scale(1.0080,1)" fill="#111" stroke="#111" stroke-width="0.26">
<text font-size="16.68">30</text>
</g>
<g transform="translate(292.93,527.23) scale(0.9879,1)" fill="#111" stroke="#111" stroke-width="0.26">
<text font-size="16.68">40</text>
</g>
<g transform="translate(318.33,527.23) scale(0.9988,1)" fill="#111" stroke="#111" stroke-width="0.26">
<text font-size="16.68">50</text>
</g>
<g transform="translate(342.32,527.23) scale(1.0496,1)" fill="#111" stroke="#111" stroke-width="0.26">
<text font-size="16.68">60</text>
</g>
<path d="M88.50,402.50h4.0M88.50,447.50h4.0M90.50,402.50V424.90M90.50,430.30V447.50" stroke="#1a1a1a" stroke-width="1.05" fill="none"/>
<path d="M113.50,308.50h4.0M113.50,356.50h4.0M115.50,308.50V332.00M115.50,337.40V356.50" stroke="#1a1a1a" stroke-width="1.05" fill="none"/>
<path d="M138.50,375.50h4.0M138.50,407.50h4.0M140.50,375.50V391.40M140.50,396.80V407.50" stroke="#1a1a1a" stroke-width="1.05" fill="none"/>
<path d="M163.50,385.50h4.0M163.50,430.50h4.0M165.50,385.50V407.70M165.50,413.10V430.50" stroke="#1a1a1a" stroke-width="1.05" fill="none"/>
<path d="M188.50,387.50h4.0M188.50,425.50h4.0M190.50,387.50V406.30M190.50,411.70V425.50" stroke="#1a1a1a" stroke-width="1.05" fill="none"/>
<path d="M213.50,397.50h4.0M213.50,437.50h4.0M215.50,397.50V416.80M215.50,422.20V437.50" stroke="#1a1a1a" stroke-width="1.05" fill="none"/>
<path d="M238.50,417.50h4.0M238.50,455.50h4.0M240.50,417.50V433.70M240.50,439.10V455.50" stroke="#1a1a1a" stroke-width="1.05" fill="none"/>
<path d="M264.50,410.50h4.0M264.50,451.50h4.0M266.50,410.50V430.90M266.50,436.30V451.50" stroke="#1a1a1a" stroke-width="1.05" fill="none"/>
<path d="M289.50,405.50h4.0M289.50,445.50h4.0M291.50,405.50V425.10M291.50,430.50V445.50" stroke="#1a1a1a" stroke-width="1.05" fill="none"/>
<path d="M314.50,424.50h4.0M314.50,462.50h4.0M316.50,424.50V443.40M316.50,448.80V462.50" stroke="#1a1a1a" stroke-width="1.05" fill="none"/>
<path d="M339.50,421.50h4.0M339.50,460.50h4.0M341.50,421.50V440.90M341.50,446.30V460.50" stroke="#1a1a1a" stroke-width="1.05" fill="none"/>
<path d="M88.50,391.50h4.0M88.50,431.50h4.0M90.50,391.50V411.40M90.50,415.80V431.50" stroke="#1a1a1a" stroke-width="1.05" fill="none"/>
<path d="M113.50,310.50h4.0M113.50,344.50h4.0M115.50,310.50V327.30M115.50,331.70V344.50" stroke="#1a1a1a" stroke-width="1.05" fill="none"/>
<path d="M138.50,350.50h4.0M138.50,375.50h4.0M140.50,350.50V363.10M140.50,367.50V375.50" stroke="#1a1a1a" stroke-width="1.05" fill="none"/>
<path d="M163.50,387.50h4.0M163.50,421.50h4.0M165.50,387.50V404.30M165.50,408.70V421.50" stroke="#1a1a1a" stroke-width="1.05" fill="none"/>
<path d="M188.50,371.50h4.0M188.50,407.50h4.0M190.50,371.50V389.40M190.50,393.80V407.50" stroke="#1a1a1a" stroke-width="1.05" fill="none"/>
<path d="M213.50,400.50h4.0M213.50,432.50h4.0M215.50,400.50V416.40M215.50,420.80V432.50" stroke="#1a1a1a" stroke-width="1.05" fill="none"/>
<path d="M238.50,401.50h4.0M238.50,432.50h4.0M240.50,401.50V417.10M240.50,421.50V432.50" stroke="#1a1a1a" stroke-width="1.05" fill="none"/>
<path d="M264.50,391.50h4.0M264.50,431.50h4.0M266.50,391.50V411.40M266.50,415.80V431.50" stroke="#1a1a1a" stroke-width="1.05" fill="none"/>
<path d="M289.50,394.50h4.0M289.50,438.50h4.0M291.50,394.50V416.60M291.50,421.00V438.50" stroke="#1a1a1a" stroke-width="1.05" fill="none"/>
<path d="M314.50,395.50h4.0M314.50,432.50h4.0M316.50,395.50V414.30M316.50,418.70V432.50" stroke="#1a1a1a" stroke-width="1.05" fill="none"/>
<path d="M339.50,394.50h4.0M339.50,428.50h4.0M341.50,394.50V411.40M341.50,415.80V428.50" stroke="#1a1a1a" stroke-width="1.05" fill="none"/>
<path d="M92.28,406.42L114.35,332.28M118.81,331.56L137.88,358.84M143.56,367.54L163.19,399.86M170.36,401.64L186.45,392.06M194.46,393.21L212.41,412.59M221.15,416.55L235.78,416.95M246.05,415.95L260.94,412.55M271.10,412.46L285.95,415.54M296.22,416.12L310.89,414.78M321.24,413.70L335.93,412.00" fill="none" stroke="#2c2c2c" stroke-width="0.95"/>
<path d="M92.15,419.88L114.48,337.02M117.85,336.79L138.84,386.61M145.22,394.24L161.53,404.86M171.08,407.41L185.73,406.59M195.72,408.31L211.15,414.79M220.26,419.71L236.67,430.79M246.15,433.12L260.84,431.48M271.08,429.73L285.97,426.27M295.24,428.17L311.87,440.33M321.24,442.88L335.93,441.42" fill="none" stroke="#151515" stroke-width="1.0"/>
<circle cx="90.80" cy="411.40" r="2.7" fill="#2e2e2e"/>
<circle cx="115.83" cy="327.30" r="2.7" fill="#2e2e2e"/>
<circle cx="140.86" cy="363.10" r="2.7" fill="#2e2e2e"/>
<circle cx="165.89" cy="404.30" r="2.7" fill="#2e2e2e"/>
<circle cx="190.92" cy="389.40" r="2.7" fill="#2e2e2e"/>
<circle cx="215.95" cy="416.40" r="2.7" fill="#2e2e2e"/>
<circle cx="240.98" cy="417.10" r="2.7" fill="#2e2e2e"/>
<circle cx="266.01" cy="411.40" r="2.7" fill="#2e2e2e"/>
<circle cx="291.04" cy="416.60" r="2.7" fill="#2e2e2e"/>
<circle cx="316.07" cy="414.30" r="2.7" fill="#2e2e2e"/>
<circle cx="341.10" cy="411.40" r="2.7" fill="#2e2e2e"/>
<path d="M87.30,427.80L94.30,427.80L90.80,421.80Z" fill="#0a0a0a"/>
<path d="M112.33,334.90L119.33,334.90L115.83,328.90Z" fill="#0a0a0a"/>
<path d="M137.36,394.30L144.36,394.30L140.86,388.30Z" fill="#0a0a0a"/>
<path d="M162.39,410.60L169.39,410.60L165.89,404.60Z" fill="#0a0a0a"/>
<path d="M187.42,409.20L194.42,409.20L190.92,403.20Z" fill="#0a0a0a"/>
<path d="M212.45,419.70L219.45,419.70L215.95,413.70Z" fill="#0a0a0a"/>
<path d="M237.48,436.60L244.48,436.60L240.98,430.60Z" fill="#0a0a0a"/>
<path d="M262.51,433.80L269.51,433.80L266.01,427.80Z" fill="#0a0a0a"/>
<path d="M287.54,428.00L294.54,428.00L291.04,422.00Z" fill="#0a0a0a"/>
<path d="M312.57,446.30L319.57,446.30L316.07,440.30Z" fill="#0a0a0a"/>
<path d="M337.60,443.80L344.60,443.80L341.10,437.80Z" fill="#0a0a0a"/>
<g transform="translate(121.00,289.97) scale(1.2264,1)" fill="#111" stroke="#111" stroke-width="0.15">
<text font-size="8.06" font-weight="bold">G2</text>
</g>
<rect x="113.90" y="283.60" width="2.7" height="3.9" rx="1" fill="#2a2a2a"/>
<g transform="translate(121.02,302.57) scale(1.1774,1)" fill="#111" stroke="#111" stroke-width="0.15">
<text font-size="8.06" font-weight="bold">G1</text>
</g>
<rect x="113.90" y="296.20" width="2.7" height="3.9" rx="1" fill="#2a2a2a"/>
<rect x="285.50" y="292.60" width="48.30" height="26.10" fill="#fff" stroke="#1c1c1c" stroke-width="1.1"/>
<path d="M285.50,304.70H311.30V292.60" fill="none" stroke="#222" stroke-width="1"/>
<line x1="285.50" y1="294.50" x2="311.30" y2="294.50" stroke="#333" stroke-width="0.8"/>
<line x1="286.10" y1="299.20" x2="293.00" y2="299.20" stroke="#1a1a1a" stroke-width="1.2"/>
<line x1="303.80" y1="299.20" x2="310.70" y2="299.20" stroke="#1a1a1a" stroke-width="1.2"/>
<line x1="286.10" y1="311.30" x2="293.00" y2="311.30" stroke="#2a2a2a" stroke-width="1.1"/>
<line x1="303.80" y1="311.30" x2="310.70" y2="311.30" stroke="#2a2a2a" stroke-width="1.1"/>
<path d="M294.80,301.90L303.20,301.90L299.00,295.70Z" fill="#0a0a0a"/>
<ellipse cx="299.00" cy="311.30" rx="3.0" ry="1.9" fill="#222"/>
<g transform="translate(313.37,302.40) scale(1.2771,1)" fill="#1a1a1a" stroke="#1a1a1a" stroke-width="0.2">
<text font-size="9.89">G</text>
<path transform="translate(7.70,0) scale(9.463,-9.463)" d="M.3726,0H.2847V.5601Q.2529,.5298 .2014,.4995Q.1499,.4692 .1089,.4541V.5391Q.1826,.5737 .2378,.623Q.293,.6724 .3159,.7188H.3726Z" stroke-width="0.0211"/>
</g>
<g transform="translate(313.42,315.00) scale(1.1645,1)" fill="#1a1a1a" stroke="#1a1a1a" stroke-width="0.2">
<text font-size="9.89">G2</text>
</g>
<path d="M490.50,290.00V505.70M486.50,501.50H792.00M486.50,290.50h4.0M486.50,343.50h4.0M486.50,396.50h4.0M486.50,448.50h4.0M486.50,501.50h4.0M489.00,317.50h1.5M489.00,369.50h1.5M489.00,422.50h1.5M489.00,475.50h1.5M490.50,501.50v4.2M515.50,501.50v4.2M540.50,501.50v4.2M565.50,501.50v4.2M590.50,501.50v4.2M616.50,501.50v4.2M641.50,501.50v4.2M666.50,501.50v4.2M691.50,501.50v4.2M716.50,501.50v4.2M741.50,501.50v4.2M766.50,501.50v4.2M791.50,501.50v4.2M503.50,501.50v2.0M528.50,501.50v2.0M553.50,501.50v2.0M578.50,501.50v2.0M603.50,501.50v2.0M628.50,501.50v2.0M653.50,501.50v2.0M678.50,501.50v2.0M703.50,501.50v2.0M728.50,501.50v2.0M753.50,501.50v2.0M778.50,501.50v2.0" fill="none" stroke="#1a1a1a" stroke-width="1.1"/>
<g transform="translate(458.67,307.72) scale(1.0756,1)" fill="#111" stroke="#111" stroke-width="0.26">
<text font-size="18.23">80</text>
</g>
<g transform="translate(459.68,356.67) scale(1.0109,1)" fill="#111" stroke="#111" stroke-width="0.26">
<text font-size="18.23">75</text>
</g>
<g transform="translate(459.67,405.47) scale(1.0245,1)" fill="#111" stroke="#111" stroke-width="0.26">
<text font-size="18.23">70</text>
</g>
<g transform="translate(458.52,453.37) scale(1.0700,1)" fill="#111" stroke="#111" stroke-width="0.26">
<text font-size="18.23">65</text>
</g>
<g transform="translate(458.30,503.32) scale(1.0942,1)" fill="#111" stroke="#111" stroke-width="0.26">
<text font-size="18.23">60</text>
</g>
<g transform="translate(0,395.20) rotate(-90)">
<g transform="translate(-1.18,453.63) scale(1.0147,1)" fill="#111" stroke="#111" stroke-width="0.26">
<text font-size="18.66">(bpm)</text>
</g>
</g>
<g transform="translate(0,433.20) rotate(-90)">
<g transform="translate(-1.28,453.43) scale(0.8916,1)" fill="#111" stroke="#111" stroke-width="0.26">
<text font-size="17.39">DBP</text>
</g>
</g>
<g transform="translate(492.31,526.83) scale(1.0802,1)" fill="#111" stroke="#111" stroke-width="0.26">
<text font-size="16.68">Rest</text>
</g>
<g transform="translate(534.03,526.83) scale(1.3075,1)" fill="#111" stroke="#111" stroke-width="0.26">
<path transform="translate(0.00,0) scale(15.952,-15.952)" d="M.3726,0H.2847V.5601Q.2529,.5298 .2014,.4995Q.1499,.4692 .1089,.4541V.5391Q.1826,.5737 .2378,.623Q.293,.6724 .3159,.7188H.3726Z" stroke-width="0.0163"/>
</g>
<g transform="translate(560.26,526.83) scale(1.0224,1)" fill="#111" stroke="#111" stroke-width="0.26">
<text font-size="16.68">3</text>
</g>
<g transform="translate(584.78,526.83) scale(1.0729,1)" fill="#111" stroke="#111" stroke-width="0.26">
<text font-size="16.68">5</text>
</g>
<g transform="translate(610.24,526.83) scale(1.0278,1)" fill="#111" stroke="#111" stroke-width="0.26">
<text font-size="16.68">7</text>
</g>
<g transform="translate(631.45,526.83) scale(1.0080,1)" fill="#111" stroke="#111" stroke-width="0.26">
<path transform="translate(0.00,0) scale(15.952,-15.952)" d="M.3726,0H.2847V.5601Q.2529,.5298 .2014,.4995Q.1499,.4692 .1089,.4541V.5391Q.1826,.5737 .2378,.623Q.293,.6724 .3159,.7188H.3726Z" stroke-width="0.0163"/>
<text x="9.28" font-size="16.68">0</text>
</g>
<g transform="translate(661.35,526.83) scale(1.0203,1)" fill="#111" stroke="#111" stroke-width="0.26">
<text font-size="16.68">20</text>
</g>
<g transform="translate(686.47,526.83) scale(1.0022,1)" fill="#111" stroke="#111" stroke-width="0.26">
<text font-size="16.68">30</text>
</g>
<g transform="translate(711.93,526.83) scale(0.9879,1)" fill="#111" stroke="#111" stroke-width="0.26">
<text font-size="16.68">40</text>
</g>
<g transform="translate(736.91,526.83) scale(1.0278,1)" fill="#111" stroke="#111" stroke-width="0.26">
<text font-size="16.68">50</text>
</g>
<g transform="translate(761.64,526.83) scale(1.0262,1)" fill="#111" stroke="#111" stroke-width="0.26">
<text font-size="16.68">60</text>
</g>
<path d="M513.10,364.50h4.8M513.10,450.50h4.8M515.50,364.50V407.70M515.50,413.10V450.50" stroke="#1a1a1a" stroke-width="1.05" fill="none"/>
<path d="M538.10,349.50h4.8M538.10,419.50h4.8M540.50,349.50V383.40M540.50,388.80V419.50" stroke="#1a1a1a" stroke-width="1.05" fill="none"/>
<path d="M563.10,352.50h4.8M563.10,398.50h4.8M565.50,352.50V375.00M565.50,380.40V398.50" stroke="#1a1a1a" stroke-width="1.05" fill="none"/>
<path d="M588.10,389.50h4.8M588.10,434.50h4.8M590.50,389.50V411.40M590.50,416.80V434.50" stroke="#1a1a1a" stroke-width="1.05" fill="none"/>
<path d="M614.10,387.50h4.8M614.10,439.50h4.8M616.50,387.50V412.00M616.50,417.40V439.50" stroke="#1a1a1a" stroke-width="1.05" fill="none"/>
<path d="M639.10,393.50h4.8M639.10,444.50h4.8M641.50,393.50V417.70M641.50,423.10V444.50" stroke="#1a1a1a" stroke-width="1.05" fill="none"/>
<path d="M664.10,388.50h4.8M664.10,447.50h4.8M666.50,388.50V417.70M666.50,423.10V447.50" stroke="#1a1a1a" stroke-width="1.05" fill="none"/>
<path d="M689.10,399.50h4.8M689.10,459.50h4.8M691.50,399.50V429.10M691.50,434.50V459.50" stroke="#1a1a1a" stroke-width="1.05" fill="none"/>
<path d="M714.10,401.50h4.8M714.10,466.50h4.8M716.50,401.50V433.40M716.50,438.80V466.50" stroke="#1a1a1a" stroke-width="1.05" fill="none"/>
<path d="M739.10,407.50h4.8M739.10,462.50h4.8M741.50,407.50V434.30M741.50,439.70V462.50" stroke="#1a1a1a" stroke-width="1.05" fill="none"/>
<path d="M764.10,416.50h4.8M764.10,469.50h4.8M766.50,416.50V442.30M766.50,447.70V469.50" stroke="#1a1a1a" stroke-width="1.05" fill="none"/>
<path d="M513.10,365.50h4.8M513.10,412.50h4.8M515.50,365.50V389.10M515.50,393.50V412.50" stroke="#1a1a1a" stroke-width="1.05" fill="none"/>
<path d="M538.10,352.50h4.8M538.10,386.50h4.8M540.50,352.50V369.40M540.50,373.80V386.50" stroke="#1a1a1a" stroke-width="1.05" fill="none"/>
<path d="M563.10,342.50h4.8M563.10,383.50h4.8M565.50,342.50V363.10M565.50,367.50V383.50" stroke="#1a1a1a" stroke-width="1.05" fill="none"/>
<path d="M588.10,370.50h4.8M588.10,430.50h4.8M590.50,370.50V400.60M590.50,405.00V430.50" stroke="#1a1a1a" stroke-width="1.05" fill="none"/>
<path d="M614.10,369.50h4.8M614.10,418.50h4.8M616.50,369.50V393.70M616.50,398.10V418.50" stroke="#1a1a1a" stroke-width="1.05" fill="none"/>
<path d="M639.10,379.50h4.8M639.10,427.50h4.8M641.50,379.50V403.70M641.50,408.10V427.50" stroke="#1a1a1a" stroke-width="1.05" fill="none"/>
<path d="M664.10,355.50h4.8M664.10,404.50h4.8M666.50,355.50V380.00M666.50,384.40V404.50" stroke="#1a1a1a" stroke-width="1.05" fill="none"/>
<path d="M689.10,337.50h4.8M689.10,386.50h4.8M691.50,337.50V361.80M691.50,366.20V386.50" stroke="#1a1a1a" stroke-width="1.05" fill="none"/>
<path d="M714.10,339.50h4.8M714.10,377.50h4.8M716.50,339.50V359.30M716.50,363.70V377.50" stroke="#1a1a1a" stroke-width="1.05" fill="none"/>
<path d="M739.10,360.50h4.8M739.10,408.50h4.8M741.50,360.50V384.30M741.50,388.70V408.50" stroke="#1a1a1a" stroke-width="1.05" fill="none"/>
<path d="M764.10,348.50h4.8M764.10,402.50h4.8M766.50,348.50V375.20M766.50,379.60V402.50" stroke="#1a1a1a" stroke-width="1.05" fill="none"/>
<path d="M519.89,385.89L536.76,372.61M545.89,368.13L560.86,364.37M568.79,367.42L588.06,396.28M595.96,399.22L610.99,395.08M620.83,395.63L636.22,401.77M644.83,400.13L662.32,383.57M670.31,376.94L686.94,364.86M696.32,361.28L711.03,359.82M719.88,362.97L737.57,380.63M746.14,382.52L761.41,376.98" fill="none" stroke="#2c2c2c" stroke-width="0.95"/>
<path d="M519.53,404.08L537.12,387.02M545.78,381.75L560.97,376.65M568.85,379.28L588.00,407.12M596.15,411.52L610.80,411.88M621.07,413.15L635.98,416.55M646.25,417.70L660.90,417.70M670.83,419.85L686.42,426.95M696.28,429.98L711.07,432.52M721.40,433.59L736.05,434.11M746.20,435.88L761.35,440.72" fill="none" stroke="#151515" stroke-width="1.0"/>
<circle cx="515.80" cy="389.10" r="3.1" fill="#2e2e2e"/>
<circle cx="540.85" cy="369.40" r="3.1" fill="#2e2e2e"/>
<circle cx="565.90" cy="363.10" r="3.1" fill="#2e2e2e"/>
<circle cx="590.95" cy="400.60" r="3.1" fill="#2e2e2e"/>
<circle cx="616.00" cy="393.70" r="3.1" fill="#2e2e2e"/>
<circle cx="641.05" cy="403.70" r="3.1" fill="#2e2e2e"/>
<circle cx="666.10" cy="380.00" r="3.1" fill="#2e2e2e"/>
<circle cx="691.15" cy="361.80" r="3.1" fill="#2e2e2e"/>
<circle cx="716.20" cy="359.30" r="3.1" fill="#2e2e2e"/>
<circle cx="741.25" cy="384.30" r="3.1" fill="#2e2e2e"/>
<circle cx="766.30" cy="375.20" r="3.1" fill="#2e2e2e"/>
<path d="M511.70,410.75L519.90,410.75L515.80,404.45Z" fill="#0a0a0a"/>
<path d="M536.75,386.45L544.95,386.45L540.85,380.15Z" fill="#0a0a0a"/>
<path d="M561.80,378.05L570.00,378.05L565.90,371.75Z" fill="#0a0a0a"/>
<path d="M586.85,414.45L595.05,414.45L590.95,408.15Z" fill="#0a0a0a"/>
<path d="M611.90,415.05L620.10,415.05L616.00,408.75Z" fill="#0a0a0a"/>
<path d="M636.95,420.75L645.15,420.75L641.05,414.45Z" fill="#0a0a0a"/>
<path d="M662.00,420.75L670.20,420.75L666.10,414.45Z" fill="#0a0a0a"/>
<path d="M687.05,432.15L695.25,432.15L691.15,425.85Z" fill="#0a0a0a"/>
<path d="M712.10,436.45L720.30,436.45L716.20,430.15Z" fill="#0a0a0a"/>
<path d="M737.15,437.35L745.35,437.35L741.25,431.05Z" fill="#0a0a0a"/>
<path d="M762.20,445.35L770.40,445.35L766.30,439.05Z" fill="#0a0a0a"/>
<rect x="709.30" y="289.60" width="48.10" height="25.90" fill="#fff" stroke="#1c1c1c" stroke-width="1.1"/>
<path d="M709.30,301.70H734.90V289.60" fill="none" stroke="#222" stroke-width="1"/>
<line x1="709.30" y1="291.50" x2="734.90" y2="291.50" stroke="#333" stroke-width="0.8"/>
<line x1="709.30" y1="289.80" x2="757.40" y2="289.80" stroke="#000" stroke-width="1.6"/>
<line x1="709.90" y1="296.70" x2="716.00" y2="296.70" stroke="#1a1a1a" stroke-width="1.2"/>
<line x1="726.80" y1="296.70" x2="734.30" y2="296.70" stroke="#1a1a1a" stroke-width="1.2"/>
<line x1="709.90" y1="309.00" x2="716.00" y2="309.00" stroke="#2a2a2a" stroke-width="1.1"/>
<line x1="726.80" y1="309.00" x2="734.30" y2="309.00" stroke="#2a2a2a" stroke-width="1.1"/>
<path d="M717.80,299.40L726.20,299.40L722.00,293.20Z" fill="#0a0a0a"/>
<ellipse cx="722.00" cy="309.00" rx="2.9" ry="1.9" fill="#222"/>
<g transform="translate(736.87,300.10) scale(1.2771,1)" fill="#1a1a1a" stroke="#1a1a1a" stroke-width="0.2">
<text font-size="9.89">G</text>
<path transform="translate(7.70,0) scale(9.463,-9.463)" d="M.3726,0H.2847V.5601Q.2529,.5298 .2014,.4995Q.1499,.4692 .1089,.4541V.5391Q.1826,.5737 .2378,.623Q.293,.6724 .3159,.7188H.3726Z" stroke-width="0.0211"/>
</g>
<g transform="translate(736.92,312.50) scale(1.1645,1)" fill="#1a1a1a" stroke="#1a1a1a" stroke-width="0.2">
<text font-size="9.89">G2</text>
</g>
</g></svg>
</body></html>
